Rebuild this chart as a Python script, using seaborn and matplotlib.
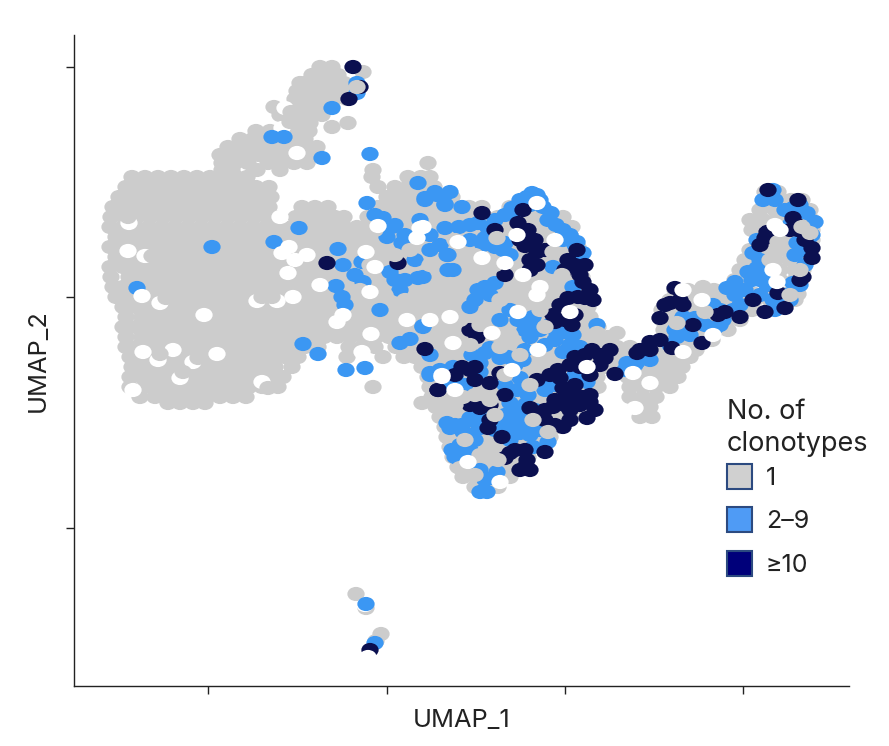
import numpy as np
import pandas as pd
import matplotlib
matplotlib.use('Agg')
import matplotlib.pyplot as plt
from matplotlib.patches import Patch
from matplotlib.path import Path
import seaborn as sns

xticks = [208, 387, 565, 743]
yticks = [67, 297, 528]
clono_labels = ['1', '2–9', '≥10']

gray_rows = [
    (67, [320, 332]), (75, [312, 325, 338]), (83, [300, 305, 318, 331, 344]),
    (91, [297, 313, 326, 339, 348]), (99, [295, 308, 321, 334, 347]),
    (107, [274, 293, 306, 319, 332]), (115, [280, 292, 296, 309, 322]), (123, [297, 310, 348]),
    (127, [332]), (72, [363]),
    (131, [256, 270, 283, 296, 309]), (139, [240, 253, 266, 279, 292, 305]),
    (147, [228, 241, 254, 267, 280, 293, 306, 317]), (155, [220, 233, 246, 259, 272, 285, 298, 311]),
    (163, [222, 235, 248, 268, 281, 294, 307, 428]),
    (170, [222, 232, 257, 280, 373]),
    (177, [132, 145, 158, 171, 184, 197, 210, 223, 236, 247, 372, 408, 421, 430]),
    (187, [126, 139, 152, 165, 178, 191, 204, 217, 230, 243, 256, 269, 378, 395, 408, 421, 434]),
    (197, [119, 132, 145, 158, 171, 184, 197, 210, 223, 236, 249, 262, 271, 387, 400, 413, 426, 439, 452]),
    (207, [113, 126, 139, 152, 165, 178, 191, 204, 217, 230, 243, 256, 269, 302, 315, 328, 378, 391, 404, 417, 430, 443, 456, 469, 482, 510, 523, 536]),
    (217, [111, 124, 137, 150, 163, 176, 189, 202, 215, 228, 241, 254, 267, 274, 296, 309, 322, 335, 344, 368, 381, 394, 407, 420, 433, 446, 459, 472, 485, 498, 511, 524, 537, 550, 563]),
    (227, [110, 123, 136, 149, 162, 175, 188, 201, 214, 227, 240, 253, 266, 279, 292, 305, 318, 331, 344, 357, 370, 383, 396, 409, 422, 435, 448, 461, 474, 487, 500, 513, 526, 539, 552, 565, 572]),
    (237, [116, 129, 142, 155, 168, 181, 194, 207, 220, 233, 246, 259, 272, 285, 298, 311, 324, 337, 350, 363, 376, 389, 402, 415, 428, 441, 454, 467, 480, 493, 506, 519, 532, 545, 558, 571]),
    (247, [110, 123, 136, 149, 162, 175, 188, 201, 214, 227, 240, 253, 266, 279, 292, 305, 318, 331, 344, 357, 370, 383, 396, 409, 422, 435, 448, 461, 474, 487, 500, 513, 526, 539, 552, 565, 578]),
    (257, [116, 129, 142, 155, 168, 181, 194, 207, 220, 233, 246, 259, 272, 285, 298, 311, 324, 337, 350, 363, 376, 389, 402, 415, 428, 441, 454, 467, 480, 493, 506, 519, 532, 545, 558, 571, 580]),
    (267, [110, 123, 136, 149, 162, 175, 188, 201, 214, 227, 240, 253, 266, 279, 292, 305, 318, 331, 344, 357, 370, 383, 396, 409, 422, 435, 448, 461, 474, 487, 500, 513, 526, 539, 552, 565, 578]),
    (277, [111, 129, 142, 155, 168, 181, 194, 207, 220, 233, 246, 259, 272, 285, 298, 311, 324, 337, 350, 363, 376, 389, 402, 415, 428, 441, 454, 467, 480, 493, 506, 519, 532, 545, 558, 571, 582]),
    (287, [113, 123, 136, 149, 162, 175, 188, 201, 214, 227, 240, 253, 266, 279, 292, 305, 318, 331, 344, 357, 370, 383, 396, 409, 422, 435, 448, 461, 474, 487, 500, 513, 526, 539, 552, 565, 578]),
    (297, [116, 129, 142, 155, 168, 181, 194, 207, 220, 233, 246, 259, 272, 285, 298, 311, 324, 337, 350, 363, 376, 389, 402, 415, 428, 441, 454, 467, 480, 493, 506, 519, 532, 545, 558, 571, 584]),
    (307, [123, 136, 149, 162, 175, 188, 201, 214, 227, 240, 253, 266, 279, 292, 305, 318, 331, 344, 357, 370, 383, 396, 409, 422, 435, 448, 461, 474, 487, 500, 513, 526, 539, 552, 565, 578, 588]),
    (317, [126, 142, 155, 168, 181, 194, 207, 220, 233, 246, 259, 272, 285, 298, 311, 324, 337, 350, 363, 376, 389, 402, 415, 428, 441, 454, 467, 480, 493, 506, 519, 532, 545, 558, 571, 584, 590]),
    (327, [123, 136, 149, 162, 175, 188, 201, 214, 227, 240, 253, 266, 279, 292, 305, 318, 331, 344, 357, 370, 383, 396, 409, 422, 435, 448, 461, 474, 487, 500, 513, 526, 539, 552, 565, 578, 591, 598]),
    (337, [126, 142, 155, 168, 181, 194, 207, 220, 233, 246, 259, 272, 285, 298, 311, 324, 337, 350, 363, 376, 389, 402, 415, 428, 441, 454, 467, 480, 493, 506, 519, 532, 545, 558, 571, 584, 597, 608]),
    (347, [126, 136, 149, 162, 175, 188, 201, 214, 227, 240, 253, 266, 279, 292, 305, 318, 349, 362, 375, 396, 409, 422, 435, 448, 461, 474, 487, 500, 513, 526, 539, 552, 565, 578, 591, 604, 617, 630]),
    (357, [130, 142, 155, 168, 181, 194, 207, 220, 233, 246, 259, 272, 285, 298, 347, 383, 404, 415, 428, 441, 454, 467, 480, 493, 506, 519, 532, 545, 558, 571, 584, 597, 610, 623, 636, 649, 662, 675, 690]),
    (367, [132, 145, 158, 171, 184, 197, 210, 223, 236, 249, 262, 275, 292, 422, 435, 448, 461, 474, 487, 500, 513, 526, 539, 552, 565, 578, 591, 604, 617, 630, 643, 656, 669, 682]),
    (377, [130, 142, 155, 168, 181, 194, 207, 220, 233, 246, 259, 272, 283, 428, 441, 454, 467, 480, 493, 506, 519, 532, 545, 558, 571, 584, 597, 628, 641, 654, 667, 678]),
    (387, [130, 145, 158, 171, 184, 197, 210, 223, 236, 249, 262, 278, 373, 430, 443, 456, 469, 482, 495, 508, 521, 534, 547, 560, 573, 586, 598, 630, 643, 656, 670]),
    (397, [140, 155, 168, 181, 194, 207, 220, 233, 246, 432, 445, 458, 471, 484, 497, 510, 523, 536, 549, 562, 575, 588, 630, 643, 656]),
    (403, [168, 180, 193, 205, 422]),
    (407, [436, 449, 462, 475, 488, 501, 514, 527, 540, 553, 566, 579, 636, 650]),
    (417, [440, 453, 466, 479, 492, 505, 518, 531, 544, 557, 570, 640, 652]),
    (427, [445, 458, 471, 484, 497, 510, 523, 536, 549, 560]),
    (437, [447, 460, 473, 486, 499, 512, 525, 538, 550]),
    (447, [450, 463, 476, 489, 502, 515, 528, 540]),
    (457, [453, 466, 479, 492, 505, 518, 528]),
    (467, [458, 471, 484, 497, 510, 520]),
    (477, [463, 476, 489, 502, 510]),
    (487, [475, 488, 498]),
    (290, [675, 688, 701, 714]),
    (300, [670, 683, 696, 709, 722, 735, 725, 740, 755, 770, 785, 795]),
    (310, [662, 675, 688, 701, 714, 727, 740, 752]),
    (320, [662, 675, 688, 701, 714, 727, 740]),
    (330, [664, 677, 690, 703, 716, 728]),
    (340, [660, 673, 686, 699, 712]),
    (350, [645, 658, 671, 684, 696]),
    (192, [765, 778]), (200, [765, 778, 791, 802]), (210, [760, 775, 788, 800, 810]),
    (220, [750, 763, 776, 790, 803, 812]), (230, [752, 770, 788, 800, 812]),
    (240, [760, 775, 788, 800, 812]), (250, [750, 765, 780, 795, 808]),
    (260, [745, 760, 775, 790, 805]), (270, [740, 752, 765, 780, 795, 803]),
    (280, [735, 750, 765, 780, 795]), (294, [725, 740, 755, 770, 785, 798]),
    (594, [356]), (634, [381]), (608, [366]), (641, [376]),
]

white_under_pts = [
    (145, 256), (129, 223), (160, 303), (158, 360), (193, 362), (173, 350), (180, 378), (262, 382),
    (257, 301), (277, 301), (285, 108), (282, 128), (297, 153), (365, 605),
]

gray_cover_pts = [
    (152, 256), (128, 217), (166, 298), (160, 354), (198, 358), (183, 372), (268, 388), (262, 297),
    (272, 297), (291, 112), (290, 122),
]

blue_pts = [
    (437, 195), (450, 192), (425, 200), (445, 205), (462, 207), (459, 227), (478, 223), (495, 220),
    (512, 208), (537, 195), (527, 197), (543, 207), (548, 220), (563, 230), (577, 242), (583, 253),
    (553, 267), (483, 245), (503, 250), (453, 270), (448, 255), (485, 287), (495, 283), (573, 287),
    (423, 277), (440, 245), (470, 307), (533, 317), (523, 320), (557, 333), (530, 337), (573, 335),
    (597, 325), (580, 347), (563, 352), (500, 320), (423, 327), (485, 353), (453, 367), (430, 373),
    (508, 357), (523, 360), (480, 363), (587, 382), (550, 382), (637, 362), (650, 360), (627, 363),
    (517, 390), (510, 403), (520, 417), (510, 427), (447, 423), (470, 418), (477, 423), (463, 432),
    (548, 442), (533, 447), (520, 433), (455, 457), (470, 450), (492, 478), (487, 492), (480, 492),
    (683, 317), (677, 337), (705, 325), (723, 320), (733, 310), (713, 305), (735, 282), (727, 288),
    (767, 285), (773, 300), (783, 303), (793, 283), (757, 240), (753, 253), (757, 268), (773, 190),
    (763, 200), (793, 208), (807, 213), (797, 243), (803, 250),
    (332, 108), (272, 137), (284, 137), (322, 158), (370, 154), (357, 83), (357, 93), (299, 228),
    (274, 242), (212, 247), (137, 288), (367, 203), (418, 183), (425, 198), (435, 192), (445, 204),
    (383, 218), (392, 227), (387, 237), (402, 243), (338, 249), (390, 272), (405, 280), (418, 278),
    (336, 286), (342, 297), (363, 282), (423, 326), (303, 344), (318, 354), (400, 343), (410, 339),
    (346, 370), (365, 368), (430, 375), (430, 355), (447, 255), (448, 270), (343, 265), (362, 262),
    (366, 604), (375, 643),
    (532, 193), (540, 200), (551, 213), (556, 225), (570, 235), (575, 245), (581, 262), (563, 240),
    (530, 205), (505, 215), (520, 200), (515, 213), (488, 228), (470, 225), (485, 238), (470, 240),
    (505, 243), (495, 247), (510, 255), (478, 290), (490, 295), (475, 300), (510, 310), (518, 320),
    (530, 325), (540, 330), (525, 330), (550, 325), (565, 332), (555, 340), (570, 345), (545, 345),
    (525, 350), (515, 365), (500, 358), (490, 348), (472, 355), (480, 372), (465, 385), (455, 378),
    (440, 370), (445, 385), (505, 385), (520, 378), (528, 395), (515, 410), (525, 405), (535, 410),
    (505, 415), (515, 425), (530, 435), (525, 425), (540, 430), (510, 440), (500, 420), (495, 430),
    (480, 428), (485, 418), (455, 425), (450, 428), (462, 425), (470, 435), (460, 445), (465, 455),
    (475, 440), (452, 450), (460, 460), (485, 480), (497, 472), (480, 470), (555, 385), (560, 378),
    (545, 390), (575, 375), (635, 365), (645, 358), (625, 370), (675, 330), (685, 325), (690, 335),
    (695, 318), (670, 345), (715, 328), (720, 310), (740, 305), (745, 290), (720, 325), (735, 295),
    (760, 280), (770, 275), (760, 295), (775, 310), (785, 295), (790, 300), (800, 285), (805, 265),
    (808, 240), (815, 222), (800, 205), (785, 210), (775, 200), (760, 260), (748, 272), (752, 280),
    (795, 255), (812, 235), (790, 225), (375, 215), (395, 225), (405, 235), (420, 220), (430, 235),
    (445, 228), (430, 250), (415, 260), (395, 280), (400, 290), (355, 275), (345, 305), (380, 310),
]

navy_pts = [
    (482, 213), (523, 210), (518, 223), (495, 230), (525, 246), (537, 252), (537, 265), (505, 275),
    (568, 260), (577, 250), (583, 282), (568, 298), (578, 297), (593, 300), (553, 315), (572, 325),
    (477, 337), (610, 350), (592, 350), (575, 357), (600, 365), (558, 370), (615, 374), (580, 367),
    (462, 367), (475, 367), (490, 383), (500, 373), (438, 390), (537, 380), (563, 388), (573, 393),
    (590, 402), (583, 397), (555, 400), (480, 408), (530, 408), (545, 420), (563, 427), (587, 418),
    (570, 410), (502, 437), (488, 428), (510, 453), (527, 460), (525, 467), (545, 452), (553, 407),
    (577, 403),
    (660, 318), (675, 288), (670, 303), (683, 305), (650, 342), (637, 353), (672, 348), (702, 343),
    (693, 325), (718, 315), (740, 317), (753, 300), (765, 312), (778, 293), (785, 308), (767, 232),
    (760, 245), (793, 218), (812, 248), (803, 277), (798, 200), (768, 190), (798, 230),
    (353, 67), (360, 87), (349, 99), (327, 263), (398, 263), (425, 349), (438, 390),
    (370, 650),
    (528, 230), (535, 240), (520, 240), (545, 250), (530, 260), (530, 270), (565, 270), (575, 265),
    (580, 275), (585, 265), (590, 290), (585, 298), (560, 305), (575, 315), (565, 320), (555, 322),
    (470, 330), (600, 355), (585, 355), (570, 365), (605, 358), (590, 375), (560, 378), (550, 375),
    (565, 397), (575, 385), (580, 405), (590, 395), (595, 410), (570, 420), (565, 405),
    (555, 425), (545, 410), (540, 415), (515, 450), (525, 450),
    (505, 458), (520, 470), (530, 470), (490, 420), (470, 405), (490, 405), (505, 395), (455, 375),
    (475, 380), (470, 370), (640, 350), (650, 350), (660, 340), (665, 305), (680, 300),
    (725, 312), (800, 280), (812, 258), (765, 238), (797, 225), (790, 230), (805, 240),
]

gray_top_pts = [
    (553, 252), (562, 275), (497, 238), (553, 288), (518, 290), (487, 310), (545, 327), (597, 333),
    (617, 333), (500, 347), (463, 397), (495, 415), (533, 420), (548, 432), (460, 468), (705, 312),
    (703, 287), (677, 323), (755, 222), (778, 242), (802, 227), (770, 260), (800, 270), (790, 295),
    (810, 233), (357, 87),
    (475, 255), (495, 265), (525, 290), (500, 300), (540, 310), (480, 325), (510, 335), (460, 320),
    (470, 345), (520, 355), (505, 375), (455, 405), (475, 395), (490, 400), (530, 385), (465, 440),
    (480, 455), (475, 475), (498, 460), (375, 230), (410, 250), (360, 290), (385, 295), (405, 300),
    (430, 265), (370, 265), (440, 290), (455, 240), (395, 255),
]

white_pts = [
    (537, 203), (517, 235), (555, 240), (505, 263), (523, 275), (540, 287), (537, 295), (518, 312),
    (458, 242), (482, 258), (570, 312), (492, 333), (538, 350), (587, 367), (633, 373), (650, 383),
    (635, 408), (512, 370), (442, 377), (455, 390), (453, 343), (683, 290), (702, 300), (713, 335),
    (683, 352), (775, 225), (780, 230), (773, 270), (777, 282), (468, 462), (500, 482), (423, 227),
    (450, 317), (430, 320),
    (128, 251), (142, 296), (204, 315), (293, 297), (282, 253), (289, 247), (307, 255), (295, 260),
    (280, 217), (143, 352), (217, 354), (133, 390), (378, 226), (420, 228), (417, 238), (366, 252),
    (375, 267), (370, 292), (320, 285), (407, 320), (371, 334), (362, 352), (442, 375), (337, 322),
    (343, 315), (288, 273), (368, 657),
]

gray_pts = [(x, y) for y, xs in gray_rows for x in xs]
layers = [('gray', gray_pts), ('none', white_under_pts), ('gray', gray_cover_pts),
          ('blue', blue_pts), ('navy', navy_pts), ('gray', gray_top_pts), ('none', white_pts)]
cells = pd.DataFrame(
    [(x, y, name) for name, pts in layers for x, y in pts],
    columns=['UMAP_1', 'UMAP_2', 'group'],
)

colors = {'gray': '#cccccc', 'blue': '#3b97f3', 'navy': '#0b1050', 'none': '#ffffff'}

sns.set_style('ticks')
plt.rcParams['font.family'] = ['Inter', 'DejaVu Sans']

fig = plt.figure(figsize=(8.89, 7.46), dpi=100)
ax = fig.add_axes([74 / 889, 60 / 746, 775 / 889, 651 / 746])

# dots in the source are slightly squashed
dot = Path(Path.unit_circle().vertices * [1, 0.82], Path.unit_circle().codes)
sns.scatterplot(data=cells, x='UMAP_1', y='UMAP_2', hue='group', palette=colors,
                marker=dot, s=155, linewidth=0, legend=False, ax=ax, clip_on=True)

ax.set_xlim(74, 849)
ax.set_ylim(686, 35)
ax.set_xticks(xticks)
ax.set_yticks(yticks)
ax.set_xticklabels([])
ax.set_yticklabels([])
ax.tick_params(length=6, width=1, color='#222222')
sns.despine(ax=ax)
for side in ['left', 'bottom']:
    ax.spines[side].set_linewidth(1)
    ax.spines[side].set_color('#222222')

ax.set_xlabel('UMAP_1', fontsize=18.3, color='#222222', labelpad=7)
ax.set_ylabel('UMAP_2', fontsize=18.3, color='#222222', labelpad=8)

handles = [Patch(facecolor='#d0d0d0', edgecolor='#2c4a80', linewidth=1.5),
           Patch(facecolor='#4f9bf5', edgecolor='#2c4a80', linewidth=1.5),
           Patch(facecolor='#00007a', edgecolor='#2c4a80', linewidth=1.5)]
leg = ax.legend(handles, clono_labels, title='No. of\nclonotypes', loc='upper left',
                bbox_to_anchor=(727, 399), bbox_transform=ax.transData, frameon=False,
                fontsize=18, title_fontsize=19.5, alignment='left', borderpad=0, borderaxespad=0,
                handlelength=1.0, handleheight=1.16, handletextpad=0.55, labelspacing=0.70,
                labelcolor='#222222')
leg.get_title().set_linespacing(1.3)
leg.get_title().set_color('#222222')
# pull the rows up towards the title
leg._legend_box.sep = 5

fig.savefig('out.png', dpi=100)
